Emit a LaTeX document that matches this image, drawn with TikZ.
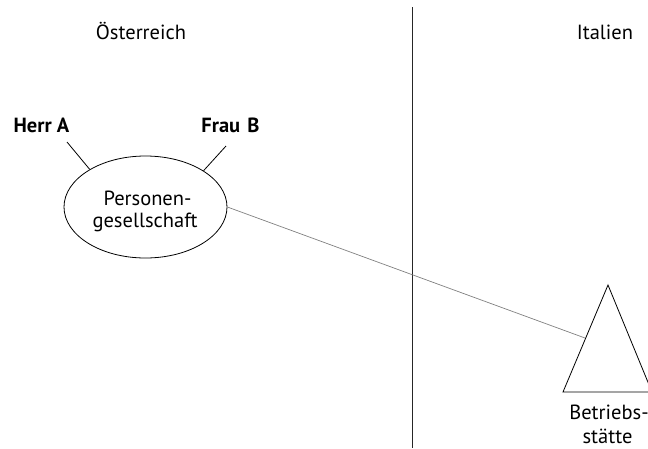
\documentclass[tikz,border=0pt]{standalone}
\usepackage{fontspec}
\setmainfont{PT Sans}
\usetikzlibrary{shapes.geometric}
\begin{document}
\begin{tikzpicture}[x=1pt,y=-1pt,
  lbl/.style={font=\fontsize{20.5}{24}\selectfont, anchor=base, inner sep=0pt},
  person/.style={font=\fontsize{20.5}{24}\selectfont\bfseries, anchor=base, inner sep=0pt},
  thin/.style={line width=0.8pt},
  link/.style={line width=0.7pt, draw=black!50}]
\useasboundingbox (0,0) rectangle (648,448);
% border between the two countries
\coordinate (bt) at (412,7);
\coordinate (bb) at (412,448);
\draw[thin, draw=black!85] (bt) -- (bb);
\node[lbl] (at) at (141,39) {Österreich};
\node[lbl] (it) at (605,39) {Italien};
% partners
\node[person] (ha) at (41.5,132) {Herr A};
\node[person] (fb) at (230.5,132) {Frau\kern2pt\ B};
% partnership
\node[draw, thin, ellipse, minimum width=163, minimum height=102, inner sep=0pt] (pg) at (145.5,207) {};
\node[lbl] (pg1) at (147.5,205) {Personen-};
\node[lbl] (pg2) at (145,227) {gesellschaft};
\coordinate (ha1) at (67,142);
\coordinate (fb1) at (226,146);
\draw[thin] (ha1) -- (pg.146);
\draw[thin] (fb1) -- (pg.32);
% permanent establishment
\coordinate (apex) at (608,285);
\coordinate (bl) at (563,392);
\coordinate (br) at (652,392);
\draw[thin] (apex) -- (bl) -- (br) -- cycle;
\node[lbl] (bs1) at (609,419) {Betriebs-};
\node[lbl] (bs2) at (607.5,443) {stätte};
\coordinate (pe) at (585,338);
\draw[link] (pg.east) -- (pe);
\end{tikzpicture}
\end{document}
